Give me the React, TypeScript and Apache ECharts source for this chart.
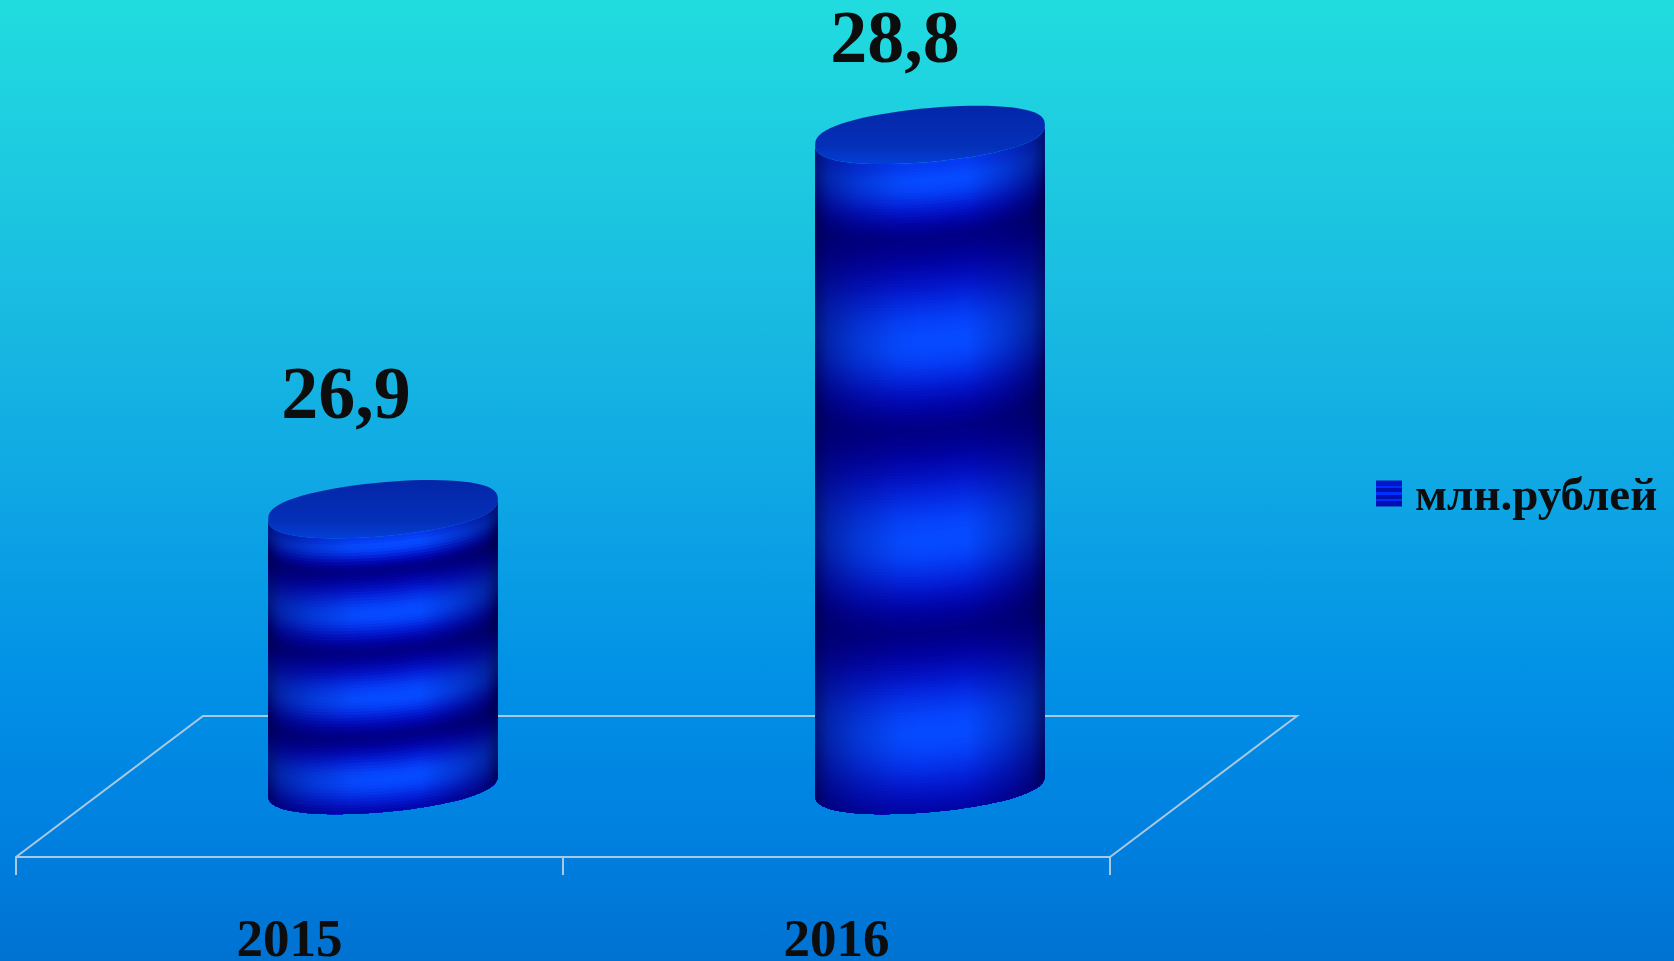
import React, { useEffect, useRef } from "react";
import * as echarts from "echarts";

const seriesName = "млн.рублей";
const categories = ["2015", "2016"];
const values = [26.9, 28.8];

const W = 1674;
const H = 961;
const GRID_LEFT = 16;
const GRID_RIGHT = 1110;
const GRID_BOTTOM_Y = 785;
const FLOOR_Y = 857;
const BACK_Y = 716;
const DEPTH_X = 187;
const AXIS_MIN = 25.5;
const AXIS_MAX = 29;
const PX_PER_UNIT = 197;
const SERIF = '"Liberation Serif", serif';
const LINE = "#a9c9e2";

const STOPS: [number, number][] = [
  [0, 0.85], [0.025, 1], [0.115, 0], [0.275, 1], [0.41, 0], [0.58, 1], [0.72, 0], [0.875, 1], [1.03, 0.05],
];
const LABEL_LIFT = [116, 98];
const LABEL_SHIFT = [-37, -35];

function band(f: number) {
  for (let i = 0; i < STOPS.length - 1; i++) {
    const [a, va] = STOPS[i];
    const [b, vb] = STOPS[i + 1];
    if (f <= b) {
      const t = Math.max(0, (f - a) / (b - a));
      const c = (1 - Math.cos(Math.PI * t)) / 2;
      return va + (vb - va) * c;
    }
  }
  return 0;
}
function stripeColor(f: number) {
  const v = Math.pow(band(f), 0.72);
  const g = Math.round(74 * v * v);
  const b = Math.round(135 + 120 * v);
  const r = Math.round(6 * v);
  return `rgb(${r},${g},${b})`;
}

function roundSin(t: number) {
  const q = Math.sin(t);
  return Math.sign(q) * Math.pow(Math.abs(q), 0.8);
}
function arc(cx: number, cy: number, a: number, b: number, s: number, reverse = false) {
  const pts: number[][] = [];
  const n = 36;
  for (let i = 0; i <= n; i++) {
    const t = Math.PI * (1 - i / n);
    pts.push([cx + a * Math.cos(t), cy + b * roundSin(t) - s * Math.cos(t)]);
  }
  return reverse ? pts.reverse() : pts;
}
function ellipse(cx: number, cy: number, a: number, b: number, s: number) {
  const pts: number[][] = [];
  const n = 72;
  for (let i = 0; i < n; i++) {
    const t = (2 * Math.PI * i) / n;
    pts.push([cx + a * Math.cos(t), cy + b * roundSin(t) - s * Math.cos(t)]);
  }
  return pts;
}

function renderCylinder(params: any, api: any) {
  const idx = api.value(0);
  const val = api.value(1);
  const top = api.coord([idx, val]);
  const base = api.coord([idx, AXIS_MIN]);
  const bw = api.size([1, 0])[0];
  const a = bw * 0.21;
  const b = 27;
  const s = 10;
  const cx = top[0] + DEPTH_X / 2;
  const topY = top[1];
  const baseY = base[1];
  const children: any[] = [];
  const height = baseY - topY;
  const bottomArc = arc(cx, baseY, a, b, s, true);
  for (let y = topY; y < baseY; y += 3) {
    children.push({
      type: "polygon",
      silent: true,
      shape: { points: arc(cx, y, a, b, s).concat(bottomArc) },
      style: { fill: stripeColor((y - topY) / height) },
    });
  }
  children.push({
    type: "polygon",
    silent: true,
    shape: { points: arc(cx, topY, a, b, s).concat(bottomArc) },
    style: {
      fill: new echarts.graphic.LinearGradient(0, 0, 1, 0, [
        { offset: 0, color: "rgba(0,0,70,0.72)" },
        { offset: 0.06, color: "rgba(0,0,90,0.5)" },
        { offset: 0.18, color: "rgba(0,0,100,0.28)" },
        { offset: 0.36, color: "rgba(0,0,100,0.04)" },
        { offset: 0.46, color: "rgba(0,0,100,0)" },
        { offset: 0.66, color: "rgba(0,0,100,0)" },
        { offset: 0.84, color: "rgba(0,0,90,0.3)" },
        { offset: 0.94, color: "rgba(0,0,80,0.5)" },
        { offset: 1, color: "rgba(0,0,60,0.75)" },
      ]),
    },
  });
  children.push({
    type: "polygon",
    silent: true,
    shape: { points: ellipse(cx, topY, a, b, s) },
    style: {
      fill: new echarts.graphic.LinearGradient(0, 0, 0, 1, [
        { offset: 0, color: "#0426a8" },
        { offset: 0.7, color: "#0430b8" },
        { offset: 1, color: "#043ed8" },
      ]),
    },
  });
  const i = params.dataIndex;
  children.push({
    type: "text",
    style: {
      text: String(values[i]).replace(".", ","),
      x: cx + LABEL_SHIFT[i],
      y: topY - LABEL_LIFT[i],
      align: "center",
      verticalAlign: "middle",
      fill: "#0d0d0d",
      font: `bold 74px ${SERIF}`,
      lineHeight: 64,
    },
  });
  return { type: "group", children };
}

export default function App() {
  const ref = useRef<HTMLDivElement>(null);
  useEffect(() => {
    document.body.style.margin = "0";
    const chart = echarts.init(ref.current!, undefined, { renderer: "svg" });
    const stripes = new echarts.graphic.LinearGradient(0, 0, 0, 1, [
      { offset: 0, color: "#0018c8" }, { offset: 0.2, color: "#0018c8" },
      { offset: 0.2, color: "#0030ff" }, { offset: 0.28, color: "#0030ff" },
      { offset: 0.28, color: "#0010b0" }, { offset: 0.46, color: "#0010b0" },
      { offset: 0.46, color: "#0030ff" }, { offset: 0.54, color: "#0030ff" },
      { offset: 0.54, color: "#0010b0" }, { offset: 0.72, color: "#0010b0" },
      { offset: 0.72, color: "#0030ff" }, { offset: 0.8, color: "#0030ff" },
      { offset: 0.8, color: "#0010b0" }, { offset: 1, color: "#0010b0" },
    ]);
    const gridTop = GRID_BOTTOM_Y - (AXIS_MAX - AXIS_MIN) * PX_PER_UNIT;
    chart.setOption({
      animation: false,
      backgroundColor: new echarts.graphic.LinearGradient(0, 0, 0, 1, [
        { offset: 0, color: "#21dcdf" },
        { offset: 0.3, color: "#1abde1" },
        { offset: 0.5, color: "#0fa8e4" },
        { offset: 0.72, color: "#018fe6" },
        { offset: 0.88, color: "#007fdf" },
        { offset: 1, color: "#0072d2" },
      ]),
      grid: {
        left: GRID_LEFT,
        width: GRID_RIGHT - GRID_LEFT,
        top: gridTop,
        height: GRID_BOTTOM_Y - gridTop,
        outerBoundsMode: "none",
      },
      legend: {
        show: true,
        left: 1371,
        top: 465,
        icon: "rect",
        itemWidth: 26,
        itemHeight: 26,
        itemStyle: { color: stripes, borderWidth: 0 },
        textStyle: {
          color: "#0d0d0d",
          fontFamily: SERIF,
          fontWeight: "bold",
          fontSize: 47,
          padding: [0, 0, 0, 8],
        },
        data: [seriesName],
      },
      xAxis: {
        type: "category",
        data: categories,
        position: "bottom",
        offset: FLOOR_Y - GRID_BOTTOM_Y,
        axisLine: { show: true, lineStyle: { color: LINE, width: 2 } },
        axisTick: { show: true, length: 18, lineStyle: { color: LINE, width: 2 }, alignWithLabel: false },
        axisLabel: {
          margin: 59,
          color: "#0d0d0d",
          fontFamily: SERIF,
          fontWeight: "bold",
          fontSize: 53,
          lineHeight: 44,
        },
        splitLine: { show: false },
      },
      yAxis: { type: "value", show: false, min: AXIS_MIN, max: AXIS_MAX, interval: 0.5, splitLine: { show: false } },
      graphic: [
        {
          type: "polyline",
          z: 0,
          silent: true,
          shape: {
            points: [
              [GRID_LEFT, FLOOR_Y],
              [GRID_LEFT + DEPTH_X, BACK_Y],
              [GRID_RIGHT + DEPTH_X, BACK_Y],
              [GRID_RIGHT, FLOOR_Y],
            ],
          },
          style: { stroke: LINE, lineWidth: 2, fill: "none" },
        },
      ],
      series: [
        {
          name: seriesName,
          type: "custom",
          z: 5,
          clip: false,
          renderItem: renderCylinder,
          encode: { x: 0, y: 1 },
          data: values.map((v, i) => [i, v]),
        },
      ],
    });
    return () => chart.dispose();
  }, []);
  return <div ref={ref} style={{ width: W, height: H, filter: "blur(0.6px)", overflow: "hidden" }} />;
}
